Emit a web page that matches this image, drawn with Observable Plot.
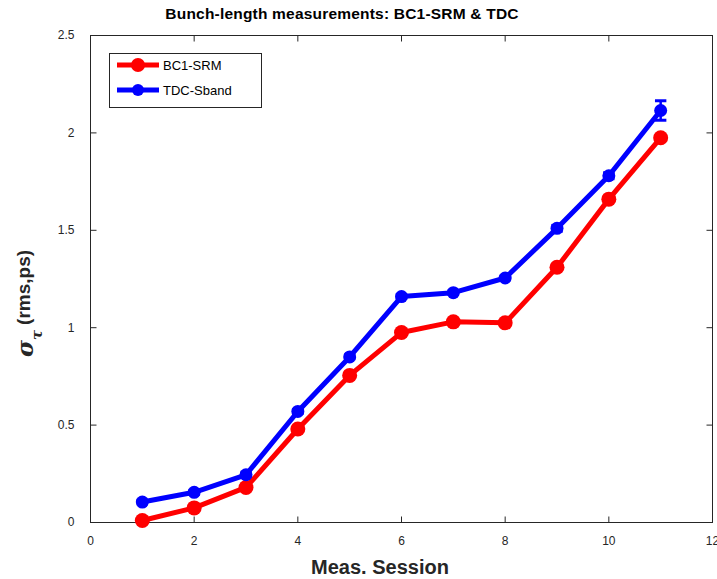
<!DOCTYPE html>
<html><head><meta charset="utf-8">
<script src="https://cdn.jsdelivr.net/npm/d3@7"></script>
<script src="https://cdn.jsdelivr.net/npm/@observablehq/plot@0.6"></script>
<style>
body{margin:0;background:#fff;font-family:"Liberation Sans",Arial,sans-serif;}
#wrap{position:relative;width:717px;height:579px;}
#title{position:absolute;left:0;top:5px;width:684px;text-align:center;font-weight:bold;font-size:15.5px;letter-spacing:0.2px;color:#000;}
#legend{position:absolute;left:109px;top:53px;width:151px;height:53px;border:1px solid #262626;background:#fff;font-size:13px;}
.row{position:absolute;left:5px;height:20px;display:flex;align-items:center;}
.row span{margin-left:2px;}
#chart{position:absolute;left:0;top:28px;}
#chart svg{overflow:visible;}
</style></head>
<body><div id="wrap"><div id="title">Bunch-length measurements: BC1-SRM &amp; TDC</div><div id="chart"></div>
<div id="legend">
<div class="row" style="top:1px"><svg width="46" height="16"><line x1="2" x2="44" y1="8" y2="8" stroke="#ff0000" stroke-width="5"/><circle cx="23" cy="8" r="7" fill="#ff0000"/></svg><span>BC1-SRM</span></div>
<div class="row" style="top:26px"><svg width="46" height="16"><line x1="2" x2="44" y1="8" y2="8" stroke="#0000ff" stroke-width="5"/><circle cx="23" cy="8" r="6" fill="#0000ff"/></svg><span>TDC-Sband</span></div>
</div></div>
<script>
const sessions = [1,2,3,4,5,6,7,8,9,10,11];
const srm = [0.01,0.075,0.18,0.48,0.755,0.975,1.03,1.025,1.31,1.66,1.975];
const srmErr = [0.005,0.005,0.005,0.005,0.005,0.005,0.005,0.005,0.005,0.005,0.005];
const tdc = [0.105,0.155,0.245,0.57,0.85,1.16,1.18,1.255,1.51,1.78,2.115];
const tdcErr = [0.01,0.01,0.01,0.01,0.01,0.01,0.01,0.01,0.015,0.015,0.05];
const xTicks = [0,2,4,6,8,10,12];
const yTicks = [0,0.5,1,1.5,2,2.5];

const W = 717, H = 551, ML = 90, MR = 5, MT = 7, MB = 57;
const xDom = [0,12], yDom = [0,2.5];
const tickPx = 6;
const tx = tickPx * (xDom[1]-xDom[0]) / (W-ML-MR);
const ty = tickPx * (yDom[1]-yDom[0]) / (H-MT-MB);

const rows = sessions.map((s,i)=>({x:s, srm:srm[i], srmLo:srm[i]-srmErr[i], srmHi:srm[i]+srmErr[i], tdc:tdc[i], lo:tdc[i]-tdcErr[i], hi:tdc[i]+tdcErr[i]}));
const axisColor = "#262626";
const plot = Plot.plot({
  width: W, height: H,
  marginLeft: ML, marginRight: MR, marginTop: MT, marginBottom: MB,
  style:{fontFamily:"'Liberation Sans',Arial,sans-serif", fontSize:"12px", color:"#262626", background:"#fff"},
  x:{domain:xDom},
  y:{domain:yDom},
  marks:[
    Plot.frame({stroke:axisColor}),
    Plot.axisX({ticks:xTicks, tickSize:0, tickPadding:14, label:null, tickFormat:d=>String(d)}),
    Plot.axisY({ticks:yTicks, tickSize:0, tickPadding:16, label:null, tickFormat:d=>String(d)}),
    Plot.link(xTicks,{x1:d=>d, x2:d=>d, y1:yDom[0], y2:yDom[0]+ty, stroke:axisColor}),
    Plot.link(xTicks,{x1:d=>d, x2:d=>d, y1:yDom[1], y2:yDom[1]-ty, stroke:axisColor}),
    Plot.link(yTicks,{y1:d=>d, y2:d=>d, x1:xDom[0], x2:xDom[0]+tx, stroke:axisColor}),
    Plot.link(yTicks,{y1:d=>d, y2:d=>d, x1:xDom[1], x2:xDom[1]-tx, stroke:axisColor}),
    Plot.line(rows,{x:"x", y:"srm", stroke:"#ff0000", strokeWidth:5}),
    Plot.ruleX(rows,{x:"x", y1:"srmLo", y2:"srmHi", stroke:"#ff0000", strokeWidth:2}),
    Plot.dot(rows,{x:"x", y:"srm", r:7.5, fill:"#ff0000"}),
    Plot.line(rows,{x:"x", y:"tdc", stroke:"#0000ff", strokeWidth:5}),
    Plot.ruleX(rows,{x:"x", y1:"lo", y2:"hi", stroke:"#0000ff", strokeWidth:2.5}),
    Plot.link(rows,{x1:d=>d.x-0.11, x2:d=>d.x+0.11, y1:"hi", y2:"hi", stroke:"#0000ff", strokeWidth:3}),
    Plot.link(rows,{x1:d=>d.x-0.11, x2:d=>d.x+0.11, y1:"lo", y2:"lo", stroke:"#0000ff", strokeWidth:3}),
    Plot.dot(rows,{x:"x", y:"tdc", r:6.5, fill:"#0000ff"})
  ]
});
document.getElementById("chart").appendChild(plot);
const svg = d3.select(plot);
svg.append("text").attr("x", 380).attr("y", 546).attr("text-anchor","middle")
  .attr("font-weight","bold").attr("font-size","20px").attr("fill","#262626").text("Meas. Session");
const yl = svg.append("text").attr("transform","translate(33,329) rotate(-90)").attr("text-anchor","start")
  .attr("font-weight","bold").attr("fill","#262626");
yl.append("tspan").attr("font-size","23px").attr("font-style","italic").attr("font-family","'DejaVu Serif',serif").text("σ");
yl.append("tspan").attr("font-size","15px").attr("font-style","italic").attr("font-family","'DejaVu Serif',serif").attr("dy",9).text("τ");
yl.append("tspan").attr("font-size","19px").attr("dy",-12).attr("dx",5).text("(rms,ps)");
</script></body></html>
